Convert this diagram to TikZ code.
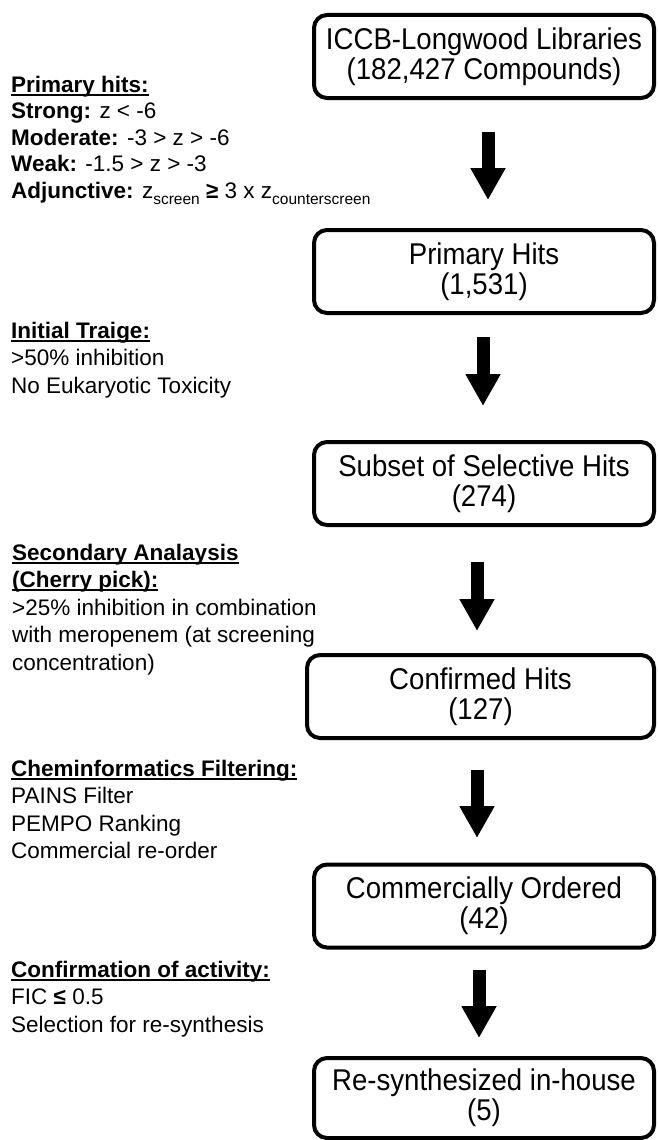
\documentclass[tikz,border=0pt]{standalone}
\usepackage{fontspec}
\setmainfont{Liberation Sans}
\newfontfamily\stagefont[FakeStretch=0.92]{Liberation Sans}
\usetikzlibrary{arrows.meta,positioning}

% underlined bold heading and lowered subscript
\newsavebox{\ulbox}
\newcommand{\ulhead}[1]{\sbox{\ulbox}{\bfseries #1}\rlap{\vrule width\wd\ulbox height -1.8pt depth 3.8pt}\usebox{\ulbox}}
\newcommand{\subtxt}[1]{\raisebox{-6pt}{\fontsize{15.5}{15.5}\selectfont #1}}

\begin{document}
\begin{tikzpicture}[x=1pt, y=-1pt,
    % Define styles
    stagebox/.style={
        rectangle,
        draw=black,
        line width=4pt,
        rounded corners=13pt,
        minimum width=340pt,
        minimum height=83pt,
        inner sep=0pt,
        align=center,
        font=\stagefont\fontsize{30}{30}\selectfont
    },
    notetext/.style={
        anchor=north west,
        inner sep=0pt,
        align=left,
        font=\fontsize{22.5}{27.5}\selectfont
    },
    flowarrow/.style={line width=13pt, -{Triangle[width=33pt,length=32pt]}}
]
\useasboundingbox (0,0) rectangle (658,1140);

% Screening stages
\node[stagebox] (libraries) at (484,56.5) {ICCB-Longwood Libraries\\(182,427 Compounds)};
\node[stagebox] (primary) at (484,271.5) {Primary Hits\\(1,531)};
\node[stagebox] (selective) at (484,483.5) {Subset of Selective Hits\\(274)};
\node[stagebox, minimum width=347pt] (confirmed) at (480.5,696.5) {Confirmed Hits\\(127)};
\node[stagebox] (ordered) at (484,906) {Commercially Ordered\\(42)};
\node[stagebox, minimum height=80pt] (resynth) at (484,1098) {Re-synthesized in-house\\(5)};

% Stage arrows
\draw[flowarrow] ([xshift=4pt,yshift=-32pt]libraries.south) -- ([xshift=4pt,yshift=28pt]primary.north);
\draw[flowarrow] ([xshift=-1pt,yshift=-22pt]primary.south) -- ([xshift=-1pt,yshift=34pt]selective.north);
\draw[flowarrow] ([xshift=-7pt,yshift=-35pt]selective.south) -- ([xshift=-3.5pt,yshift=22pt]confirmed.north);
\draw[flowarrow] ([xshift=-3.5pt,yshift=-30pt]confirmed.south) -- ([xshift=-7pt,yshift=24.5pt]ordered.north);
\draw[flowarrow] ([xshift=-5pt,yshift=-20.5pt]ordered.south) -- ([xshift=-5pt,yshift=18pt]resynth.north);

% Selection criteria
\node[notetext, font=\fontsize{22.5}{26.5}\selectfont] (primary_note) at (11,75.5) {\ulhead{Primary hits:}\\
    \textbf{Strong:} z < -6\\
    \textbf{Moderate:} -3 > z > -6\\
    \textbf{Weak:} -1.5 > z > -3\\
    \textbf{Adjunctive:} z\subtxt{screen} {\bfseries ≥} 3 x z\subtxt{counterscreen}};

\node[notetext] (triage_note) at (11,321.5) {\ulhead{Initial Traige:}\\
    >50\% inhibition\\
    No Eukaryotic Toxicity};

\node[notetext] (secondary_note) at (12,543.5) {\ulhead{Secondary Analaysis}\\
    \ulhead{(Cherry pick):}\\
    >25\% inhibition in combination\\
    with meropenem (at screening\\
    concentration)};

\node[notetext] (filter_note) at (11,759.5) {\ulhead{Cheminformatics Filtering:}\\
    PAINS Filter\\
    PEMPO Ranking\\
    Commercial re-order};

\node[notetext] (activity_note) at (11,960.5) {\ulhead{Confirmation of activity:}\\
    FIC {\bfseries ≤} 0.5\\
    Selection for re-synthesis};

\end{tikzpicture}
\end{document}
